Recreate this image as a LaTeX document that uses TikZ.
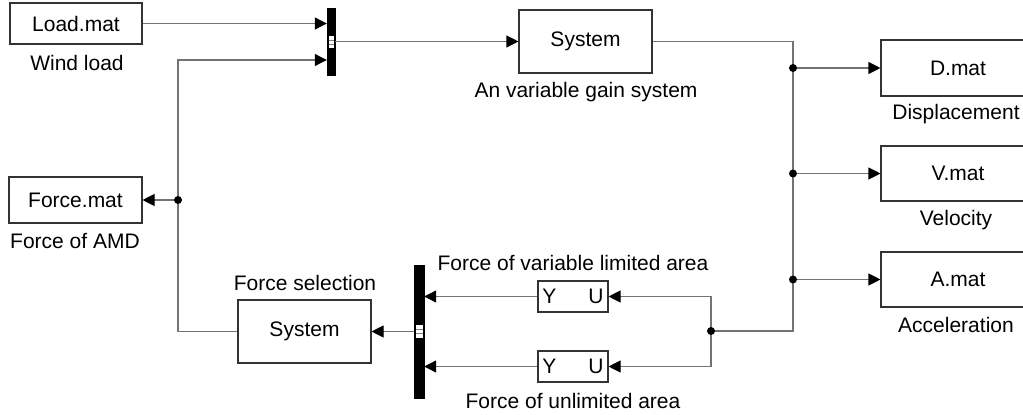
\documentclass[tikz,border=0pt]{standalone}
\usepackage{fontspec}
\setmainfont{Liberation Sans}
\usetikzlibrary{arrows.meta,calc}
\begin{document}
\begin{tikzpicture}[x=1pt,y=-1pt, font=\fontsize{21}{25}\selectfont,
  blk/.style={draw=black!80, line width=1.1pt, fill=white, inner sep=0pt},
  conn/.style={draw=black!55, line width=1.1pt},
  arr/.style={conn, -{Triangle[length=12pt,width=12pt,color=black]}},
  muxbar/.style={fill=black, draw=black, inner sep=0pt},
  dot/.style={circle, fill=black, inner sep=0pt, minimum size=8pt},
  lbl/.style={inner sep=0pt},
  muxmark/.style={draw=black!50, line width=0.6pt}]
\useasboundingbox (0,0) rectangle (1023,415);
\clip (0,0) rectangle (1023,415);
% blocks
\node[blk, minimum width=132pt, minimum height=41pt] (load) at (76,23.5) {Load.mat};
\node[lbl] (windl) at (77,63) {Wind load};
\node[muxbar, minimum width=8pt, minimum height=67pt] (mux1) at (331,41.5) {};
\node[blk, minimum width=133pt, minimum height=63pt] (sys1) at (585.5,41.5) {System};
\node[lbl] (sys1l) at (586,92) {An variable gain system};
\node[blk, minimum width=154pt, minimum height=56pt] (dmat) at (958,68) {D.mat};
\node[lbl] (dlbl) at (956,114) {Displacement};
\node[blk, minimum width=154pt, minimum height=55pt] (vmat) at (958,173.5) {V.mat};
\node[lbl] (vlbl) at (956,220) {Velocity};
\node[blk, minimum width=154pt, minimum height=55pt] (amat) at (958,279.5) {A.mat};
\node[lbl] (albl) at (956,325) {Acceleration};
\node[blk, minimum width=133pt, minimum height=46pt] (force) at (75.5,200) {Force.mat};
\node[lbl] (forcel) at (75,241) {Force of AMD};
\node[blk, minimum width=133pt, minimum height=63pt] (fsel) at (304.5,331.5) {System};
\node[lbl] (fsell) at (305,283) {Force selection};
\node[muxbar, minimum width=10pt, minimum height=133pt] (mux2) at (419,331.5) {};
\node[blk, minimum width=70pt, minimum height=31pt] (yu1) at (573,296.5) {Y\hspace{32pt}U};
\node[blk, minimum width=70pt, minimum height=31pt] (yu2) at (573,366.5) {Y\hspace{32pt}U};
\node[lbl] (yu1l) at (573,263) {Force of variable limited area};
\node[lbl] (yu2l) at (573,401) {Force of unlimited area};
% mux marks
\fill[white] (328.5,36) rectangle (333.5,48);
\draw[muxmark] (328.5,40) -- (333.5,40) (328.5,44) -- (333.5,44);
\fill[white] (415.5,325) rectangle (422.5,338);
\draw[muxmark] (415.5,329.3) -- (422.5,329.3) (415.5,333.7) -- (422.5,333.7);
% junctions
\coordinate (j1) at (178,200);
\coordinate (jD) at (793,68);
\coordinate (jV) at (793,173.5);
\coordinate (jA) at (793,279.5);
\coordinate (jr) at (793,331);
\coordinate (j3) at (711,331);
% connectors
\draw[arr] (load.east) -- (load.east -| mux1.west);
\draw[arr] (fsel.west) -| (j1) |- ($(mux1.west)+(0,18.5)$);
\draw[arr] (j1) -- (force.east);
\draw[arr] (mux1.east) -- (sys1.west);
\draw[conn] (sys1.east) -| (jr) -- (j3);
\draw[arr] (jD) -- (dmat.west);
\draw[arr] (jV) -- (vmat.west);
\draw[arr] (jA) -- (amat.west);
\draw[arr] (j3) |- (yu1.east);
\draw[arr] (j3) |- (yu2.east);
\draw[arr] (yu1.west) -- (yu1.west -| mux2.east);
\draw[arr] (yu2.west) -- (yu2.west -| mux2.east);
\draw[arr] (mux2.west) -- (fsel.east);
\foreach \j in {j1,jD,jV,jA,j3} \node[dot] at (\j) {};
\end{tikzpicture}
\end{document}
